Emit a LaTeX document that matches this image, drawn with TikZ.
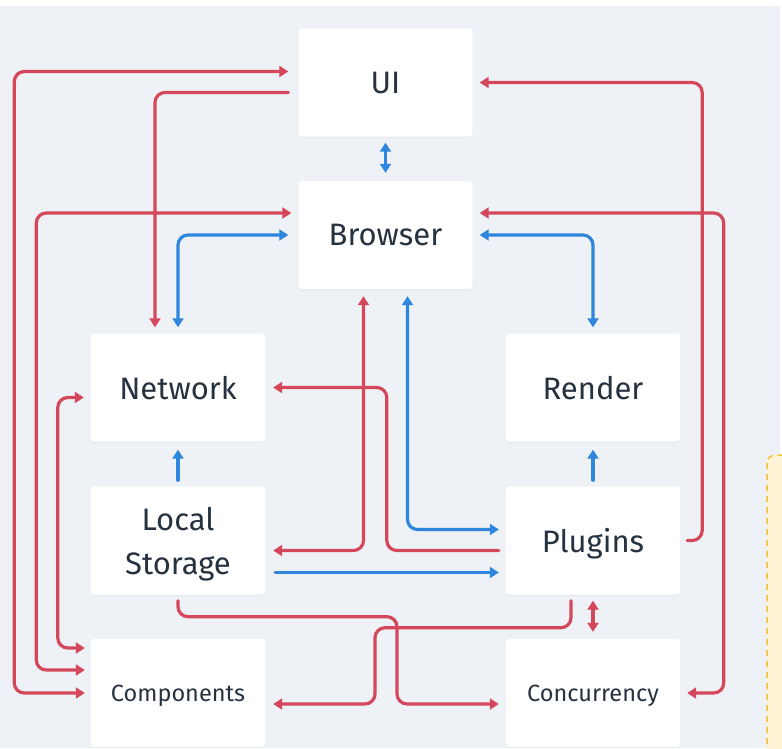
\documentclass[tikz,border=0pt]{standalone}
\usepackage{fontspec}
\setmainfont{Fira Sans}
\usetikzlibrary{arrows.meta,calc,shadows}
\definecolor{bgc}{HTML}{EEF2F6}
\definecolor{redc}{HTML}{D5475B}
\definecolor{bluec}{HTML}{2E86DE}
\definecolor{txtc}{HTML}{26323F}
\definecolor{yfill}{HTML}{FDF2D3}
\definecolor{ydash}{HTML}{F2C230}
\begin{document}
\begin{tikzpicture}[x=1pt,y=-1pt,
  box/.style={fill=white, rounded corners=3pt, minimum width=174pt, minimum height=108pt,
    inner sep=0pt, text=txtc, font=\fontsize{31}{44}\selectfont, align=center, text depth=0pt,
    drop shadow={opacity=0.06, shadow xshift=0pt, shadow yshift=-1.5pt}},
  smalltext/.style={font=\fontsize{23.5}{28}\selectfont},
  rl/.style={draw=redc, line width=3.2pt, rounded corners=10pt, line cap=round},
  bl/.style={draw=bluec, line width=3.2pt, rounded corners=10pt, line cap=round},
  >={Triangle[length=9pt,width=11pt]}]
\useasboundingbox (0,0) rectangle (782,748);
\clip (0,0) rectangle (782,748);
\fill[white] (0,0) rectangle (782,748);
\fill[bgc] (0,6) rectangle (780,748);
\draw[fill=yfill, draw=ydash, line width=1.5pt, dash pattern=on 6pt off 5pt, rounded corners=8pt] (767,455) rectangle (830,800);

% nodes
\node[box] (ui) at (385.5,82.5) {UI};
\node[box] (browser) at (385.5,235) {Browser};
\node[box] (network) at (178,387.5) {Network};
\node[box] (render) at (593,387.5) {Render};
\node[box] (storage) at (178,540.5) {Local\\Storage};
\node[box] (plugins) at (593,540.5) {Plugins};
\node[box, smalltext] (components) at (178,693) {Components};
\node[box, smalltext] (concurrency) at (593,693) {Concurrency};

% red connectors
\draw[rl,<->] ($(ui.west)+(-10,-11)$) -- ++(-274,0) |- ($(components.west)+(-6,0)$);
\draw[rl,->] ($(ui.west)+(-10,10)$) -| ($(network.north)+(-23,-6)$);
\draw[rl,<->] ($(browser.west)+(-7,-22)$) -- ++(-255,0) |- ($(components.west)+(-6,-23)$);
\draw[rl,<->] ($(browser.south)+(-22,7)$) |- ($(storage.east)+(8,10)$);
\draw[rl,->] ($(plugins.east)+(7,0)$) -- ++(15,0) |- ($(ui.east)+(7,0)$);
\draw[rl,<->] ($(browser.east)+(7,-22)$) -- ++(244,0) |- ($(concurrency.east)+(7,0)$);
\draw[rl,->] ($(plugins.west)+(-7,10)$) -- ++(-112,0) |- ($(network.east)+(8,0)$);
\draw[rl,<->] ($(network.west)+(-7,10)$) -- ++(-26,0) |- ($(components.west)+(-6,-45)$);
\draw[rl,->] ($(storage.south)+(0,6)$) -- ++(0,16) -- ++(219,0) |- ($(concurrency.west)+(-7,11)$);
\draw[rl,->] ($(plugins.south)+(-22,6)$) -- ++(0,27) -- ++(-196,0) |- ($(components.east)+(8,11)$);
\draw[rl,<->] ($(plugins.south)+(0,6)$) -- ($(concurrency.north)+(0,-7)$);

% blue connectors
\draw[bl,<->] ($(network.north)+(0,-6)$) |- ($(browser.west)+(-10,0)$);
\draw[bl,<->] ($(ui.south)+(0,6)$) -- ($(browser.north)+(0,-8)$);
\draw[bl,<->] ($(browser.south)+(22,7)$) |- ($(plugins.west)+(-7,-11)$);
\draw[bl,<->] ($(browser.east)+(7,0)$) -| ($(render.north)+(0,-6)$);
\draw[bl,->] ($(storage.east)+(10,32)$) -- ($(plugins.west)+(-7,32)$);
\draw[bl,->] ($(storage.north)+(0,-6)$) -- ($(network.south)+(0,8)$);
\draw[bl,->] ($(plugins.north)+(0,-6)$) -- ($(render.south)+(0,8)$);
\end{tikzpicture}
\end{document}
